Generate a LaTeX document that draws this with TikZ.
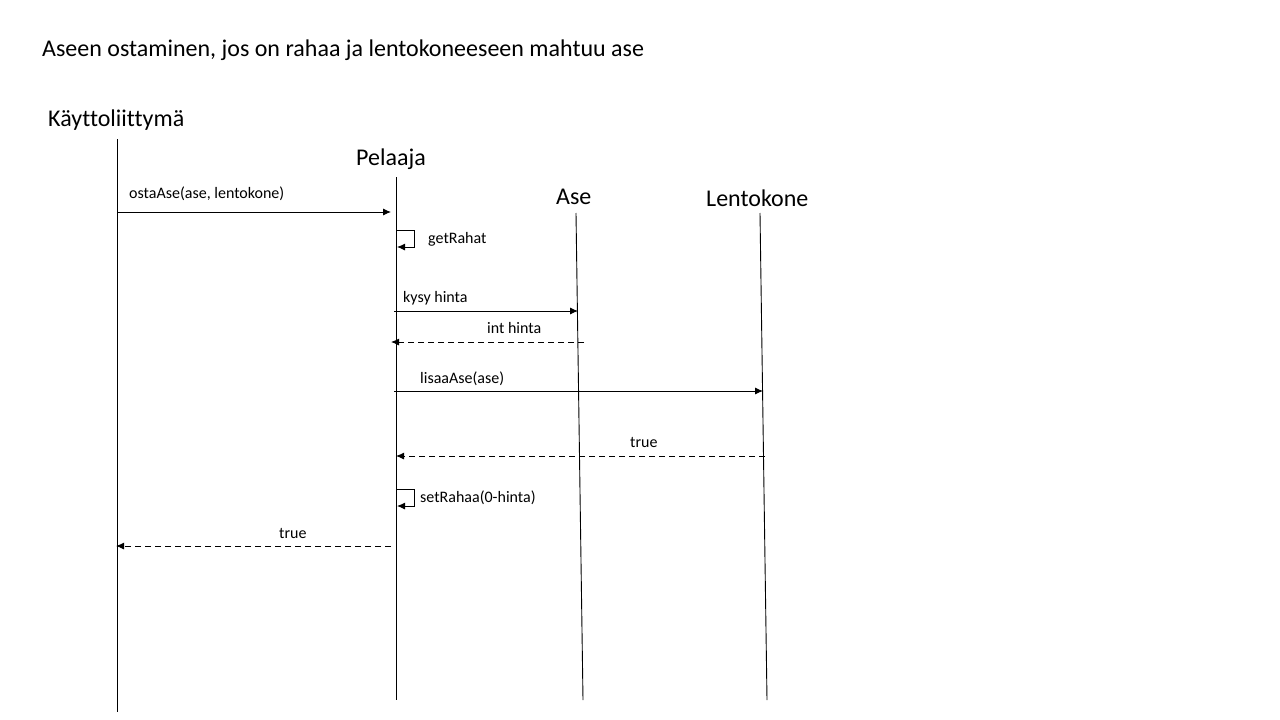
\documentclass[tikz,border=0pt]{standalone}
\usepackage{fontspec}
\setmainfont[Ligatures=NoCommon]{Carlito}
\usetikzlibrary{arrows.meta}
\begin{document}
\begin{tikzpicture}[x=1pt,y=-1pt,
  lifeline/.style={line width=0.9pt},
  msg/.style={line width=0.9pt,-{Latex[length=8pt,width=7pt]}},
  ret/.style={msg,dash pattern=on 6pt off 4pt},
  head/.style={font=\fontsize{24}{28}\selectfont,inner sep=0pt,anchor=base west},
  lbl/.style={font=\fontsize{16}{19}\selectfont,inner sep=0pt,anchor=base west}]
\useasboundingbox[fill=white] (0,0) rectangle (1280,720);
\node[font=\fontsize{24}{28}\selectfont,inner sep=0pt,anchor=base west] (title) at (42,56) {Aseen ostaminen, jos on rahaa ja lentokoneeseen mahtuu ase};
\node[head] (ui) at (48,126) {Käyttoliittymä};
\node[head] (pl) at (356,165) {Pelaaja};
\node[head] (ase) at (556,204) {Ase};
\node[head] (lk) at (706,206) {Lentokone};
% lifelines
\coordinate (uiT) at (117,139); \coordinate (uiB) at (117,712);
\coordinate (plT) at (396,177); \coordinate (plB) at (396,700);
\coordinate (aseT) at (576,213); \coordinate (aseB) at (583,700);
\coordinate (lkT) at (760,213); \coordinate (lkB) at (767,700);
\draw[lifeline] (uiT) -- (uiB);
\draw[lifeline] (plT) -- (plB);
\draw[lifeline] (aseT) -- (aseB);
\draw[lifeline] (lkT) -- (lkB);
% messages
\coordinate (m1a) at (117,212); \coordinate (m1b) at (391,212);
\draw[msg] (m1a) -- (m1b);
\node[lbl] (l1) at (129,198) {ostaAse(ase, lentokone)};
\coordinate (m2a) at (396,230); \coordinate (m2b) at (397,247);
\draw[msg] (m2a) -- (414,230) -- (414,247) -- (m2b);
\node[lbl] (l2) at (428,243) {getRahat};
\coordinate (m3a) at (394,311); \coordinate (m3b) at (578,311);
\draw[msg] (m3a) -- (m3b);
\node[lbl] (l3) at (403,302) {kysy hinta};
\coordinate (m4a) at (584,342); \coordinate (m4b) at (391,342);
\draw[ret] (m4a) -- (m4b);
\node[lbl] (l4) at (487,333) {int hinta};
\coordinate (m5a) at (394,391); \coordinate (m5b) at (763,391);
\draw[msg] (m5a) -- (m5b);
\node[lbl] (l5) at (420,383) {lisaaAse(ase)};
\coordinate (m6a) at (765,456); \coordinate (m6b) at (396,456);
\draw[ret] (m6a) -- (m6b);
\node[lbl] (l6) at (630,447) {true};
\coordinate (m7a) at (396,489); \coordinate (m7b) at (397,506);
\draw[msg] (m7a) -- (414,489) -- (414,506) -- (m7b);
\node[lbl] (l7) at (420,502) {setRahaa(0-hinta)};
\coordinate (m8a) at (391,546); \coordinate (m8b) at (116,546);
\draw[ret] (m8a) -- (m8b);
\node[lbl] (l8) at (279,538) {true};
\end{tikzpicture}
\end{document}
